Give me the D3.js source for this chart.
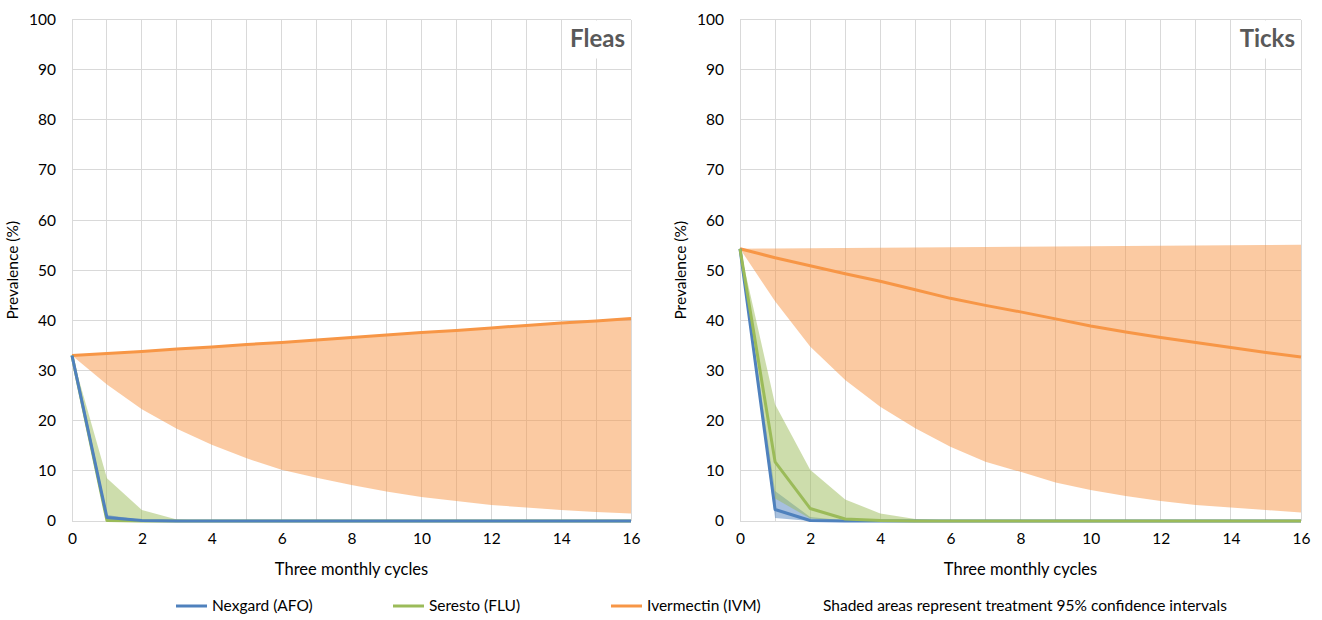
<!DOCTYPE html>
<html>
<head>
<meta charset="utf-8">
<script src="https://cdn.jsdelivr.net/npm/d3@7"></script>
<style>
  body { margin: 0; background: #fff; }
  svg { display: block; font-family: Lato, "Open Sans", sans-serif; }
</style>
</head>
<body>
<svg id="chart" width="1322" height="620"></svg>
<script>
// ---------- data ----------
const cycles = [0,1,2,3,4,5,6,7,8,9,10,11,12,13,14,15,16];
const xTicks = [0,2,4,6,8,10,12,14,16];
const yTicks = [0,10,20,30,40,50,60,70,80,90,100];

// Fleas
const fleaAfoMean = [33.0,0.7,0.1,0,0,0,0,0,0,0,0,0,0,0,0,0,0];
const fleaAfoLow  = [33.0,0.2,0,0,0,0,0,0,0,0,0,0,0,0,0,0,0];
const fleaAfoHigh = [33.0,1.2,0.2,0,0,0,0,0,0,0,0,0,0,0,0,0,0];
const fleaFluMean = [33.0,0.1,0,0,0,0,0,0,0,0,0,0,0,0,0,0,0];
const fleaFluLow  = [33.0,0,0,0,0,0,0,0,0,0,0,0,0,0,0,0,0];
const fleaFluHigh = [33.0,8.5,2.2,0.3,0,0,0,0,0,0,0,0,0,0,0,0,0];
const fleaIvmMean = [33.0,33.4,33.8,34.3,34.7,35.2,35.6,36.1,36.6,37.1,37.6,38.0,38.5,39.0,39.5,39.9,40.4];
const fleaIvmLow  = [33.0,27.2,22.3,18.4,15.2,12.5,10.2,8.6,7.2,5.9,4.8,4.0,3.2,2.7,2.2,1.8,1.5];
const fleaIvmHigh = [33.0,33.4,33.8,34.3,34.7,35.2,35.6,36.1,36.6,37.1,37.6,38.0,38.5,39.0,39.5,39.9,40.4];

// Ticks
const tickAfoMean = [54.3,2.3,0.1,0,0,0,0,0,0,0,0,0,0,0,0,0,0];
const tickAfoLow  = [54.3,0.6,0,0,0,0,0,0,0,0,0,0,0,0,0,0,0];
const tickAfoHigh = [54.3,6.0,0.8,0.1,0,0,0,0,0,0,0,0,0,0,0,0,0];
const tickFluMean = [54.3,11.8,2.5,0.4,0.1,0,0,0,0,0,0,0,0,0,0,0,0];
const tickFluLow  = [54.0,4.5,0.5,0,0,0,0,0,0,0,0,0,0,0,0,0,0];
const tickFluHigh = [54.3,23.3,10.2,4.3,1.5,0.4,0.1,0,0,0,0,0,0,0,0,0,0];
const tickIvmMean = [54.3,52.5,50.9,49.3,47.8,46.1,44.4,43.0,41.7,40.3,38.9,37.7,36.6,35.6,34.6,33.6,32.7];
const tickIvmLow  = [54.3,43.8,34.8,28.1,22.8,18.5,14.8,11.8,9.8,7.7,6.2,5.0,4.0,3.2,2.7,2.2,1.7];
const tickIvmHigh = [54.3,54.35,54.4,54.45,54.5,54.55,54.6,54.65,54.7,54.75,54.8,54.85,54.9,54.95,55.0,55.05,55.1];

const seriesNames = ["Nexgard (AFO)", "Seresto (FLU)", "Ivermectin (IVM)"];
const noteText = "Shaded areas represent treatment 95% confidence intervals";
const panelTitles = ["Fleas", "Ticks"];
const xTitle = "Three monthly cycles";
const yTitle = "Prevalence (%)";

// ---------- styles ----------
const colors = { afo: "#4f81bd", flu: "#9bbb59", ivm: "#f79646" };
const gridColor = "#d9d9d9";
const textColor = "#000";

const svg = d3.select("#chart");

const panels = [
  { title: panelTitles[0], left: 72, right: 631, titleBoxLeft: 565,
    order: ["ivm","flu","afo"],
    data: {
      afo: {mean: fleaAfoMean, low: fleaAfoLow, high: fleaAfoHigh},
      flu: {mean: fleaFluMean, low: fleaFluLow, high: fleaFluHigh},
      ivm: {mean: fleaIvmMean, low: fleaIvmLow, high: fleaIvmHigh}
    } },
  { title: panelTitles[1], left: 740, right: 1301, titleBoxLeft: 1236,
    order: ["ivm","afo","flu"],
    data: {
      afo: {mean: tickAfoMean, low: tickAfoLow, high: tickAfoHigh},
      flu: {mean: tickFluMean, low: tickFluLow, high: tickFluHigh},
      ivm: {mean: tickIvmMean, low: tickIvmLow, high: tickIvmHigh}
    } }
];

const plotTop = 19.5, plotBottom = 521;

panels.forEach(p => {
  const x = d3.scaleLinear().domain([0,16]).range([p.left, p.right]);
  const y = d3.scaleLinear().domain([0,100]).range([plotBottom, plotTop]);
  const g = svg.append("g");

  // gridlines
  g.append("g").selectAll("line").data(cycles).join("line")
    .attr("x1", d => x(d)).attr("x2", d => x(d))
    .attr("y1", y(0)).attr("y2", y(100))
    .attr("stroke", gridColor).attr("stroke-width", 1).attr("shape-rendering","crispEdges");
  g.append("g").selectAll("line").data(yTicks).join("line")
    .attr("x1", x(0)).attr("x2", x(16))
    .attr("y1", d => y(d)).attr("y2", d => y(d))
    .attr("stroke", gridColor).attr("stroke-width", 1).attr("shape-rendering","crispEdges");

  // axes labels via d3 axes
  const xAxis = g.append("g").attr("transform", `translate(0,${plotBottom + 12})`)
    .call(d3.axisBottom(x).tickValues(xTicks).tickSize(0).tickPadding(0));
  xAxis.select(".domain").remove();
  xAxis.selectAll("text").attr("font-size", 15.5).attr("fill", textColor)
    .attr("font-family", "Lato, sans-serif").attr("dy", "0.71em");

  const yAxis = g.append("g").attr("transform", `translate(${p.left - 16},0)`)
    .call(d3.axisLeft(y).tickValues(yTicks).tickSize(0).tickPadding(0));
  yAxis.select(".domain").remove();
  yAxis.selectAll("text").attr("font-size", 15.5).attr("fill", textColor)
    .attr("font-family", "Lato, sans-serif");

  // axis titles
  g.append("text").attr("x", (p.left + p.right) / 2).attr("y", 575)
    .attr("text-anchor", "middle").attr("font-size", 16.5).attr("fill", textColor)
    .text(xTitle);
  g.append("text")
    .attr("transform", `translate(${p.left - 54},${(plotTop + plotBottom) / 2}) rotate(-90)`)
    .attr("text-anchor", "middle").attr("font-size", 15.5).attr("fill", textColor)
    .text(yTitle);

  const area = d3.area().x((d, i) => x(cycles[i])).y0(d => y(d[0])).y1(d => y(d[1]));
  const line = d3.line().x((d, i) => x(cycles[i])).y(d => y(d));

  // confidence areas
  p.order.forEach(k => {
    const s = p.data[k];
    const pts = s.low.map((v, i) => [v, s.high[i]]);
    g.append("path").datum(pts).attr("d", area)
      .attr("fill", colors[k]).attr("fill-opacity", 0.5);
  });
  // mean lines
  p.order.forEach(k => {
    g.append("path").datum(p.data[k].mean).attr("d", line)
      .attr("fill", "none").attr("stroke", colors[k]).attr("stroke-width", 3)
      .attr("stroke-linejoin", "round");
  });

  // title box
  g.append("rect").attr("x", p.titleBoxLeft).attr("y", plotTop + 1)
    .attr("width", p.right - p.titleBoxLeft).attr("height", 38).attr("fill", "#fff");
  g.append("text").attr("x", p.right - 6).attr("y", 47)
    .attr("text-anchor", "end").attr("font-size", 24).attr("font-weight", "bold")
    .attr("fill", "#595959").text(p.title);
});

// legend
const legendY = 606;
const legendItems = [
  { key: "afo", name: seriesNames[0], x: 176 },
  { key: "flu", name: seriesNames[1], x: 393 },
  { key: "ivm", name: seriesNames[2], x: 611 }
];
const lg = svg.append("g");
legendItems.forEach(it => {
  lg.append("line").attr("x1", it.x).attr("x2", it.x + 31)
    .attr("y1", legendY).attr("y2", legendY)
    .attr("stroke", colors[it.key]).attr("stroke-width", 3);
  lg.append("text").attr("x", it.x + 36).attr("y", legendY).attr("dy", "0.35em")
    .attr("font-size", 15.5).attr("fill", textColor).text(it.name);
});
lg.append("text").attr("x", 823).attr("y", legendY).attr("dy", "0.35em")
  .attr("font-size", 15.5).attr("fill", textColor).text(noteText);
</script>
</body>
</html>
